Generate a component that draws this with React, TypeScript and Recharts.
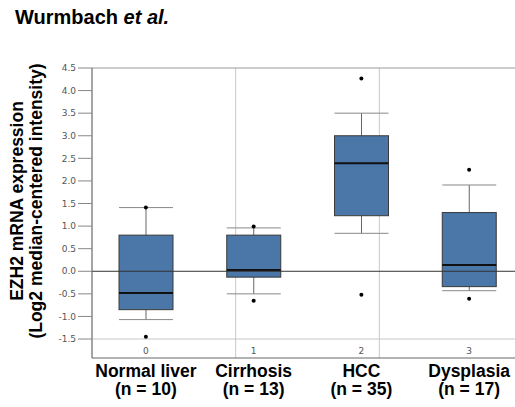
import {
  Bar,
  CartesianGrid,
  ComposedChart,
  ReferenceLine,
  Scatter,
  XAxis,
  YAxis,
} from "recharts";

const categories = ["0", "1", "2", "3"];
const groupNames = ["Normal liver", "Cirrhosis", "HCC", "Dysplasia"];
const groupCounts = [10, 13, 35, 17];

const whiskerLow = [-1.07, -0.5, 0.84, -0.43];
const quartile1 = [-0.85, -0.13, 1.23, -0.34];
const medians = [-0.48, 0.03, 2.39, 0.14];
const quartile3 = [0.8, 0.8, 3.0, 1.3];
const whiskerHigh = [1.41, 0.96, 3.5, 1.91];
const outlierHigh = [1.41, 0.99, 4.27, 2.25];
const outlierLow = [-1.45, -0.65, -0.52, -0.61];

const yTicks = [-1.5, -1.0, -0.5, 0.0, 0.5, 1.0, 1.5, 2.0, 2.5, 3.0, 3.5, 4.0, 4.5];

const data = categories.map((cat, i) => ({
  cat,
  range: [whiskerLow[i], whiskerHigh[i]],
  q1: quartile1[i],
  median: medians[i],
  q3: quartile3[i],
  hi: outlierHigh[i],
  lo: outlierLow[i],
}));

const BOX_FILL = "#4a76a8";
const SANS = "'Liberation Sans', Arial, sans-serif";
const TICK_FONT = "'DejaVu Sans', sans-serif";

// whiskers, box and median, placed from the bar's own pixel range
function BoxShape(props: any) {
  const { x, y, width, height, payload } = props;
  const [lo, hi] = payload.range;
  const k = height / (hi - lo);
  const py = (v: number) => y + (hi - v) * k;
  const cx = x + width / 2;
  return (
    <g>
      <line x1={cx} x2={cx} y1={py(hi)} y2={py(lo)} stroke="#666" strokeWidth={1} />
      <line x1={x} x2={x + width} y1={py(hi)} y2={py(hi)} stroke="#888" strokeWidth={1} />
      <line x1={x} x2={x + width} y1={py(lo)} y2={py(lo)} stroke="#888" strokeWidth={1} />
      <rect
        x={x}
        y={py(payload.q3)}
        width={width}
        height={py(payload.q1) - py(payload.q3)}
        fill={BOX_FILL}
        stroke="#3a3a3a"
        strokeWidth={1}
      />
      <line
        x1={x}
        x2={x + width}
        y1={py(payload.median)}
        y2={py(payload.median)}
        stroke="#111"
        strokeWidth={2}
      />
    </g>
  );
}

function Dot(props: any) {
  const { cx, cy } = props;
  return <circle cx={cx} cy={cy} r={2} fill="#000" />;
}

function CategoryTick(props: any) {
  const { x, y, payload } = props;
  const i = payload.index;
  return (
    <g>
      <text x={x} y={y - 4} textAnchor="middle" fontSize={9} fill="#555" fontFamily={TICK_FONT}>
        {payload.value}
      </text>
      <text x={x} y={y + 19} textAnchor="middle" fontSize={17.5} fontWeight="bold" fill="#000" fontFamily={SANS}>
        {groupNames[i]}
      </text>
      <text x={x} y={y + 37} textAnchor="middle" fontSize={17.5} fontWeight="bold" fill="#000" fontFamily={SANS}>
        {`(n = ${groupCounts[i]})`}
      </text>
    </g>
  );
}

function YTitle(props: any) {
  const { viewBox } = props;
  const cy = viewBox.y + viewBox.height / 2 - 12;
  return (
    <g fontFamily={SANS} fontWeight="bold" fontSize={17.5} fill="#000">
      <text x={23} y={cy} textAnchor="middle" transform={`rotate(-90 23 ${cy})`}>
        EZH2 mRNA expression
      </text>
      <text x={42} y={cy} textAnchor="middle" transform={`rotate(-90 42 ${cy})`}>
        (Log2 median-centered intensity)
      </text>
    </g>
  );
}

export default function App() {
  return (
    <div
      style={{
        position: "fixed",
        left: 0,
        top: 0,
        width: 515,
        height: 407,
        overflow: "hidden",
        background: "#fff",
      }}
    >
      <div
        style={{
          position: "absolute",
          left: 15,
          top: 8,
          fontFamily: SANS,
          fontWeight: "bold",
          fontSize: 20,
          lineHeight: "18px",
          color: "#000",
        }}
      >
        Wurmbach <i>et al.</i>
      </div>
      <ComposedChart
        width={523}
        height={407}
        data={data}
        margin={{ top: 68, right: 0, left: 0, bottom: 0 }}
      >
        <XAxis xAxisId="grid" type="number" domain={[0, 4]} ticks={[0, 1, 2, 3, 4]} hide />
        <CartesianGrid xAxisId="grid" horizontal={false} stroke="#c8c8c8" />
        <XAxis
          dataKey="cat"
          height={49}
          tickLine={false}
          axisLine={{ stroke: "#666" }}
          tick={<CategoryTick />}
          tickSize={0}
          tickMargin={0}
          interval={0}
        />
        <YAxis
          width={92}
          domain={[-1.92, 4.5]}
          ticks={yTicks}
          tickFormatter={(v: number) => v.toFixed(1)}
          tick={{ fontSize: 9, fill: "#555", fontFamily: TICK_FONT }}
          tickLine={{ stroke: "#888" }}
          tickSize={14}
          tickMargin={2}
          axisLine={{ stroke: "#666" }}
          allowDataOverflow
          label={<YTitle />}
        />
        <ReferenceLine y={4.5} stroke="#999" />
        <ReferenceLine y={-1.5} stroke="#c8c8c8" />
        <ReferenceLine y={0} stroke="#333" />
        <Bar dataKey="range" barSize={54} shape={<BoxShape />} isAnimationActive={false} />
        <Scatter dataKey="hi" shape={<Dot />} isAnimationActive={false} />
        <Scatter dataKey="lo" shape={<Dot />} isAnimationActive={false} />
      </ComposedChart>
    </div>
  );
}
